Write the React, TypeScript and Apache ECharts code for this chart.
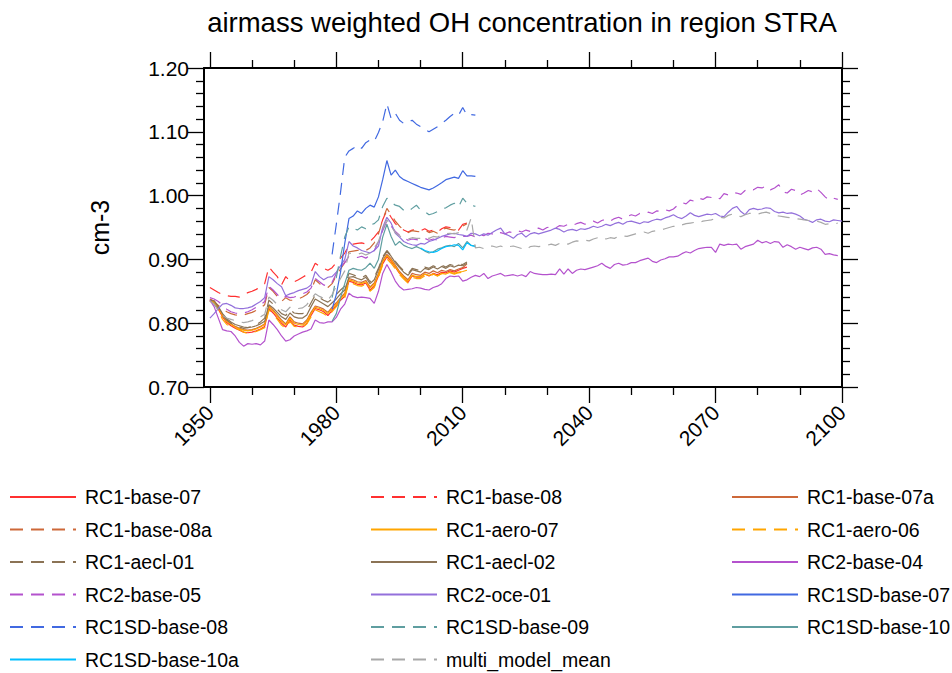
import React, { useEffect, useRef } from "react";
import * as echarts from "echarts";

const TITLE = "airmass weighted OH concentration in region STRA";
const Y_NAME = "cm-3";
const X_MIN = 1948.6;
const X_MAX = 2100;
const X_MAJOR = [1950, 1980, 2010, 2040, 2070, 2100];
const X_MINOR = [1960, 1970, 1990, 2000, 2020, 2030, 2050, 2060, 2080, 2090];
const Y_MIN = 0.7;
const Y_MAX = 1.2;
const Y_STEP = 0.1;

const HIST_START = 1950;
const SD_START = 1979;
const SD10A_START = 2000;

const rc1Base07 = [
  .836, .834, .822, .810, .801, .796, .792, .789, .786, .785,
  .786, .788, .791, .795, .823, .816, .808, .800, .794, .805,
  .797, .795, .794, .800, .812, .823, .821, .818, .812, .820,
  .828, .836, .842, .866, .864, .861, .860, .863, .852, .858,
  .874, .893, .904, .897, .888, .878, .871, .864, .874, .872,
  .872, .877, .874, .878, .876, .880, .879, .882, .880, .883,
  .886, .888,
];
const rc1Base08 = [
  .856, .852, .848, .845, .843, .842, .842, .841, .844, .848,
  .850, .853, .857, .862, .888, .880, .873, .860, .873, .866,
  .865, .868, .872, .876, .880, .894, .889, .886, .883, .887,
  .895, .902, .910, .922, .924, .925, .926, .924, .928, .935,
  .943, .962, .977, .966, .956, .950, .946, .943, .946, .947,
  .945, .948, .944, .946, .943, .948, .951, .950, .948, .946,
  .955, .957,
];
const rc1Base07a = [
  .837, .835, .824, .813, .804, .799, .795, .792, .790, .789,
  .790, .792, .795, .799, .828, .821, .813, .805, .799, .810,
  .802, .800, .799, .805, .817, .827, .825, .822, .817, .825,
  .832, .840, .847, .870, .868, .865, .864, .867, .857, .863,
  .878, .898, .908, .901, .891, .881, .874, .868, .878, .876,
  .875, .880, .878, .882, .879, .883, .881, .884, .882, .885,
  .887, .893,
];
const rc1Base08a = [
  .838, .834, .828, .822, .818, .815, .813, .812, .813, .815,
  .817, .820, .824, .829, .856, .850, .842, .834, .840, .836,
  .836, .838, .841, .845, .852, .868, .862, .858, .856, .862,
  .875, .885, .895, .912, .913, .914, .916, .914, .918, .926,
  .940, .962, .980, .970, .960, .952, .946, .942, .945, .944,
  .943, .946, .942, .944, .941, .946, .949, .947, .946, .949,
  .952, .956,
];
const rc1Aero07 = [
  .834, .832, .823, .812, .803, .798, .794, .791, .789, .788,
  .789, .791, .794, .798, .826, .819, .811, .803, .797, .808,
  .800, .798, .797, .803, .815, .825, .823, .820, .815, .823,
  .830, .838, .845, .868, .866, .863, .862, .865, .855, .861,
  .876, .896, .906, .899, .889, .879, .872, .866, .875, .873,
  .873, .877, .875, .877, .874, .878, .877, .880, .878, .880,
  .881, .883,
];
const rc1Aero06 = [
  .835, .833, .820, .806, .798, .795, .792, .790, .786, .784,
  .785, .787, .790, .793, .821, .814, .806, .797, .792, .803,
  .795, .794, .793, .799, .810, .821, .818, .815, .810, .818,
  .826, .834, .840, .864, .862, .859, .858, .861, .850, .856,
  .872, .891, .901, .894, .885, .876, .869, .863, .872, .870,
  .870, .874, .872, .877, .874, .878, .876, .879, .877, .879,
  .880,
];
const rc1Aecl01 = [
  .835, .830, .822, .812, .805, .800, .797, .794, .792, .793,
  .795, .798, .802, .808, .836, .830, .822, .815, .812, .821,
  .816, .815, .815, .820, .832, .844, .840, .836, .833, .838,
  .845, .852, .858, .878, .876, .873, .871, .875, .865, .872,
  .886, .904, .914, .906, .897, .889, .882, .877, .886, .884,
  .882, .888, .886, .890, .887, .891, .888, .892, .890, .893,
  .892, .896,
];
const rc1Aecl02 = [
  .836, .835, .826, .815, .807, .802, .798, .796, .794, .793,
  .794, .796, .799, .803, .829, .824, .817, .810, .806, .816,
  .810, .808, .808, .813, .826, .838, .834, .830, .826, .832,
  .838, .846, .852, .872, .873, .870, .868, .872, .862, .868,
  .884, .902, .912, .905, .895, .887, .880, .875, .884, .882,
  .880, .886, .884, .888, .885, .889, .886, .890, .888, .891,
  .890, .894,
];
const rc2Base04Hist = [
  .836, .826, .808, .790, .788, .787, .780, .770, .764, .768,
  .767, .768, .766, .772, .805, .798, .790, .780, .772, .774,
  .780, .783, .786, .788, .791, .805, .801, .800, .802, .802,
  .809, .822, .830, .847, .842, .840, .841, .840, .839, .831,
  .850, .878, .892, .880, .866, .857, .852, .853, .854, .856,
  .855, .853, .852, .856, .858, .862, .870, .874, .873, .874,
  .866, .868,
];
const rc2Base04Future = [
  .872, .875, .873, .878, .870, .874, .876, .878, .874, .875,
  .876, .874, .876, .873, .881, .878, .877, .876, .876, .877,
  .876, .885, .877, .885, .878, .883, .885, .884, .886, .888,
  .890, .894, .889, .886, .892, .894, .891, .892, .895, .895,
  .898, .900, .902, .897, .895, .899, .901, .904, .904, .905,
  .909, .912, .910, .914, .917, .918, .919, .919, .911, .924,
  .922, .924, .923, .924, .916, .920, .922, .924, .930, .926,
  .928, .925, .928, .927, .919, .923, .920, .916, .919, .917,
  .915, .918, .919, .916, .908, .909, .907, .906,
];
const rc2Base05Hist = [
  .840, .838, .834, .828, .822, .818, .816, .815, .816, .818,
  .821, .825, .829, .834, .858, .852, .845, .838, .842, .840,
  .841, .843, .846, .849, .855, .870, .865, .860, .858, .864,
  .878, .888, .895, .905, .904, .903, .905, .902, .906, .914,
  .928, .945, .960, .952, .944, .938, .934, .930, .932, .931,
  .930, .933, .930, .932, .930, .934, .936, .935, .934, .937,
  .936, .936,
];
const rc2Base05Future = [
  .938, .935, .939, .937, .941, .940, .938, .942, .940, .943,
  .942, .945, .943, .946, .944, .947, .949, .946, .950, .951,
  .949, .953, .952, .955, .953, .956, .958, .955, .959, .960,
  .957, .961, .963, .960, .964, .966, .963, .967, .970, .968,
  .972, .971, .974, .972, .976, .975, .978, .976, .979, .985,
  .989, .987, .993, .991, .996, .994, .998, .997, .999, .995,
  1.003, 1.001, 1.005, 1.004, 1.002, 1.008, 1.011, 1.009, 1.013, 1.012,
  1.015, 1.009, 1.012, 1.017, 1.006, 1.004, 1.010, 1.008, 1.001, 1.004,
  1.008, 1.006, 1.011, 1.005, .998, .993, .996, .994,
];
const rc2Oce01Hist = [
  .808, .815, .823, .830, .831, .828, .824, .823, .823, .824,
  .826, .830, .834, .840, .873, .868, .862, .857, .843, .846,
  .848, .851, .853, .855, .860, .881, .873, .868, .872, .873,
  .880, .890, .900, .928, .921, .918, .914, .912, .910, .914,
  .921, .950, .966, .957, .941, .935, .928, .925, .923, .922,
  .925, .924, .928, .930, .933, .936, .938, .940, .941, .939,
  .938, .936,
];
const rc2Oce01Future = [
  .941, .940, .937, .940, .938, .942, .946, .949, .940, .937,
  .933, .939, .941, .935, .940, .942, .940, .942, .944, .946,
  .949, .947, .943, .946, .947, .945, .948, .947, .949, .952,
  .950, .952, .955, .953, .956, .958, .955, .959, .960, .958,
  .956, .959, .958, .961, .963, .962, .965, .967, .970, .966,
  .964, .968, .973, .969, .967, .969, .971, .970, .972, .968,
  .967, .974, .980, .983, .975, .970, .978, .980, .978, .979,
  .981, .980, .975, .973, .974, .972, .973, .971, .968, .963,
  .961, .958, .962, .963, .960, .959, .962, .961, .960,
];
const rc1sdBase07 = [
  .822, .845, .880, .925, .964, .968, .976, .972, .980, .985,
  .982, .998, 1.025, 1.055, 1.032, 1.040, 1.030, 1.025, 1.022, 1.019,
  1.016, 1.013, 1.011, 1.009, 1.012, 1.016, 1.020, 1.025, 1.027, 1.029,
  1.027, 1.039, 1.031, 1.031, 1.030,
];
const rc1sdBase08 = [
  .908, .955, 1.005, 1.060, 1.070, 1.074, 1.079, 1.074, 1.083, 1.087,
  1.085, 1.099, 1.116, 1.144, 1.121, 1.129, 1.118, 1.113, 1.116, 1.118,
  1.112, 1.108, 1.104, 1.100, 1.104, 1.108, 1.113, 1.118, 1.124, 1.129,
  1.126, 1.138, 1.126, 1.127, 1.126,
];
const rc1sdBase09 = [
  .840, .872, .905, .935, .951, .949, .946, .951, .948, .954,
  .956, .962, .983, .996, .990, .985, .983, .977, .975, .980,
  .985, .977, .975, .970, .972, .975, .978, .981, .985, .988,
  .982, .996, .988, .985, .983,
];
const rc1sdBase10 = [
  .803, .815, .840, .862, .883, .886, .884, .883, .887, .894,
  .886, .900, .935, .955, .936, .922, .928, .922, .919, .917,
  .920, .917, .913, .910, .912, .916, .918, .921, .922, .920,
  .925, .918, .928, .922, .921,
];
const rc1sdBase10a = [
  .918, .914, .912, .911, .913, .917, .920, .921, .923, .922,
  .915, .926, .922, .920,
];
const meanHist = [
  .835, .830, .820, .812, .808, .806, .804, .802, .801, .802,
  .804, .807, .810, .814, .841, .836, .829, .821, .818, .825,
  .822, .823, .824, .829, .838, .846, .842, .839, .836, .845,
  .858, .870, .882, .910, .909, .908, .910, .907, .910, .918,
  .928, .948, .962, .952, .942, .937, .933, .932, .934, .933,
  .933, .934, .933, .936, .935, .938, .940, .941, .940, .942,
  .944, .946,
];
const meanFuture = [
  .965, .918,
  .919, .917, .920, .921, .919, .921, .918, .920,
  .921, .919, .917, .915, .920, .921, .920, .921, .922, .924,
  .922, .925, .926, .924, .927, .929, .928, .930, .929, .932,
  .934, .935, .932, .934, .933, .936, .937, .936, .938, .940,
  .942, .943, .941, .944, .945, .946, .948, .950, .952, .951,
  .954, .956, .957, .958, .957, .960, .961, .962, .964, .966,
  .965, .969, .971, .968, .967, .970, .972, .973, .971, .973,
  .974, .972, .969, .968, .967, .966, .965, .964, .963, .962,
  .961, .962, .960, .958, .955, .956, .955, .957,
];

const SERIES_NAMES = [
  "RC1-base-07", "RC1-base-08", "RC1-base-07a",
  "RC1-base-08a", "RC1-aero-07", "RC1-aero-06",
  "RC1-aecl-01", "RC1-aecl-02", "RC2-base-04",
  "RC2-base-05", "RC2-oce-01", "RC1SD-base-07",
  "RC1SD-base-08", "RC1SD-base-09", "RC1SD-base-10",
  "RC1SD-base-10a", "multi_model_mean",
];
const SERIES_VALUES = [
  rc1Base07, rc1Base08, rc1Base07a,
  rc1Base08a, rc1Aero07, rc1Aero06,
  rc1Aecl01, rc1Aecl02, rc2Base04Hist.concat(rc2Base04Future),
  rc2Base05Hist.concat(rc2Base05Future), rc2Oce01Hist.concat(rc2Oce01Future), rc1sdBase07,
  rc1sdBase08, rc1sdBase09, rc1sdBase10,
  rc1sdBase10a, meanHist.concat(meanFuture),
];
const SERIES_START = [
  HIST_START, HIST_START, HIST_START,
  HIST_START, HIST_START, HIST_START,
  HIST_START, HIST_START, HIST_START,
  HIST_START, HIST_START, SD_START,
  SD_START, SD_START, SD_START,
  SD10A_START, HIST_START,
];

// styles
const COLORS = [
  "#ff3030", "#ff3030", "#cd6839",
  "#cd6839", "#ffa500", "#ffa500",
  "#8b7355", "#8b7355", "#b452cd",
  "#b452cd", "#9370db", "#4169e1",
  "#4169e1", "#5f9ea0", "#5f9ea0",
  "#00bfff", "#a8a8a8",
];
const DASHED = [
  false, true, false,
  true, false, true,
  true, false, false,
  true, false, false,
  true, true, false,
  false, true,
];

const FONT = '"Liberation Sans", Arial, Helvetica, sans-serif';

export default function App() {
  const ref = useRef<HTMLDivElement>(null);
  useEffect(() => {
    if (!ref.current) return;
    const chart = echarts.init(ref.current, null, { renderer: "svg" });

    const series = SERIES_NAMES.map((name, i) => ({
      name,
      type: "line",
      xAxisIndex: 0,
      yAxisIndex: 0,
      data: SERIES_VALUES[i].map((v, k) => [SERIES_START[i] + k, v]),
      showSymbol: false,
      symbol: "none",
      silent: true,
      lineStyle: {
        color: COLORS[i],
        width: 1.2,
        type: DASHED[i] ? [12, 8] : "solid",
      },
      itemStyle: { color: COLORS[i] },
      z: 2,
    }));

    const legendGraphics: any[] = [];
    const colLine = [10, 371, 732];
    const colText = [85, 446, 807];
    SERIES_NAMES.forEach((name, i) => {
      const col = i % 3;
      const row = Math.floor(i / 3);
      const y = 497 + row * 32.5;
      legendGraphics.push({
        type: "line",
        silent: true,
        shape: { x1: colLine[col], y1: y, x2: colLine[col] + 66, y2: y },
        style: {
          stroke: COLORS[i],
          lineWidth: 2,
          lineDash: DASHED[i] ? [13, 8] : null,
        },
      });
      legendGraphics.push({
        type: "text",
        silent: true,
        x: colText[col],
        y,
        style: {
          text: name,
          fill: "#000",
          fontSize: 19.5,
          fontFamily: FONT,
          align: "left",
          verticalAlign: "middle",
        },
      });
    });

    const tickLine = { color: "#000", width: 1.3 };
    const axisLine = { show: true, lineStyle: { color: "#000", width: 2 } };
    const labelStyle = { color: "#000", fontSize: 21, fontFamily: FONT };

    const option = {
      animation: false,
      backgroundColor: "#ffffff",
      grid: { left: 204, right: 110, top: 68, bottom: 286, containLabel: false },
      xAxis: [
        {
          type: "value", min: X_MIN, max: X_MAX, position: "bottom",
          axisLine,
          axisTick: { show: true, inside: false, length: 16, customValues: X_MAJOR, lineStyle: tickLine },
          axisLabel: { show: true, customValues: X_MAJOR, rotate: 45, margin: 22, formatter: (v: number) => String(v), ...labelStyle },
          splitLine: { show: false },
        },
        {
          type: "value", min: X_MIN, max: X_MAX, position: "bottom",
          axisLine: { show: false },
          axisTick: { show: true, inside: false, length: 8, customValues: X_MINOR, lineStyle: tickLine },
          axisLabel: { show: false },
          splitLine: { show: false },
        },
        {
          type: "value", min: X_MIN, max: X_MAX, position: "top",
          axisLine,
          axisTick: { show: true, inside: false, length: 16, customValues: X_MAJOR, lineStyle: tickLine },
          axisLabel: { show: false },
          splitLine: { show: false },
        },
        {
          type: "value", min: X_MIN, max: X_MAX, position: "top",
          axisLine: { show: false },
          axisTick: { show: true, inside: false, length: 8, customValues: X_MINOR, lineStyle: tickLine },
          axisLabel: { show: false },
          splitLine: { show: false },
        },
      ],
      yAxis: [
        {
          type: "value", min: Y_MIN, max: Y_MAX, interval: Y_STEP, position: "left",
          name: Y_NAME, nameLocation: "middle", nameGap: 92,
          nameTextStyle: { color: "#000", fontSize: 25, fontFamily: FONT },
          axisLine,
          axisTick: { show: true, inside: false, length: 16, lineStyle: tickLine },
          minorTick: { show: true, splitNumber: 5, length: 8, lineStyle: tickLine },
          axisLabel: { show: true, margin: 15, formatter: (v: number) => v.toFixed(2), ...labelStyle },
          splitLine: { show: false },
          minorSplitLine: { show: false },
        },
        {
          type: "value", min: Y_MIN, max: Y_MAX, interval: Y_STEP, position: "right",
          axisLine,
          axisTick: { show: true, inside: false, length: 16, lineStyle: tickLine },
          minorTick: { show: true, splitNumber: 5, length: 8, lineStyle: tickLine },
          axisLabel: { show: false },
          splitLine: { show: false },
          minorSplitLine: { show: false },
        },
      ],
      graphic: [
        {
          type: "text",
          silent: true,
          x: 522,
          y: 22,
          style: {
            text: TITLE,
            fill: "#000",
            fontSize: 27.5,
            fontFamily: FONT,
            align: "center",
            verticalAlign: "middle",
          },
        },
        ...legendGraphics,
      ],
      series,
    };

    chart.setOption(option as any);
    return () => chart.dispose();
  }, []);

  return (
    <div
      ref={ref}
      style={{ position: "absolute", left: 0, top: 0, width: 952, height: 673, background: "#fff" }}
    />
  );
}
